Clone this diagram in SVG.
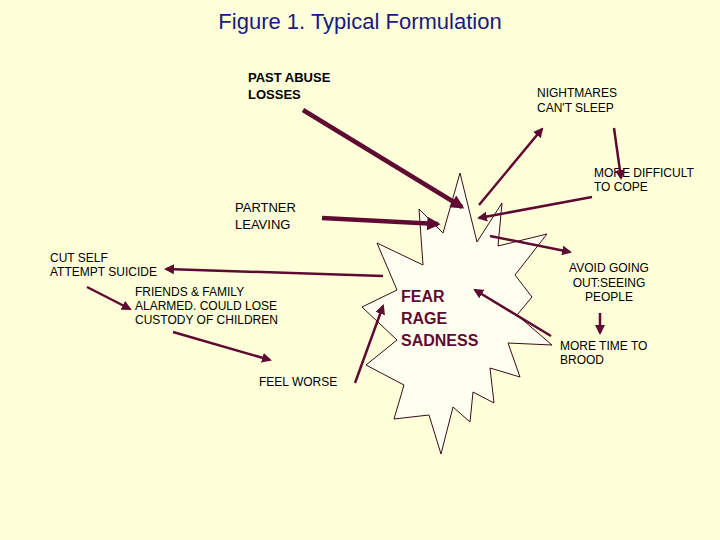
<svg xmlns="http://www.w3.org/2000/svg" width="720" height="540" viewBox="0 0 720 540">
<defs>
<style>
.t{font-family:"Liberation Sans",Arial,sans-serif;font-size:12px;fill:#000}
.b{font-family:"Liberation Sans",Arial,sans-serif;font-size:13px;font-weight:bold;fill:#000}
.c{stroke:#5f0a32;fill:none;stroke-width:2.5}
.k{stroke:#5f0a32;fill:none;stroke-width:4.5}
</style>
<marker id="a" viewBox="0 0 10 10" refX="8" refY="5" markerWidth="4" markerHeight="4" orient="auto" markerUnits="strokeWidth"><path d="M0,0L10,5L0,10z" fill="#5f0a32"/></marker>
<marker id="ak" viewBox="0 0 10 10" refX="8" refY="5" markerWidth="3.5" markerHeight="3" orient="auto" markerUnits="strokeWidth"><path d="M0,0L10,5L0,10z" fill="#5f0a32"/></marker>
</defs>
<rect width="720" height="540" fill="#ffffd9"/>
<text x="360" y="29" text-anchor="middle" style="font-family:'Liberation Sans',Arial,sans-serif;font-size:22px" fill="#1a1a80">Figure 1. Typical Formulation</text>
<g id="star">
<polygon points="460,173 477,242 502,203 498,246 547,234 515,275 532,297 517,315 552,345 508,343 520,377 490,368 494,403 473,392 470,422 453,407 441,454 429,415 394,419 404,385 366,365 397,340 362,307 397,290 377,243 423,265 419,209 443,233" fill="#fffff0" stroke="#3a0a1e" stroke-width="1"/>
<text x="401" y="302" style="font-family:'Liberation Sans',Arial,sans-serif;font-size:16px;font-weight:bold" fill="#5f0a32">FEAR</text>
<text x="401" y="324" style="font-family:'Liberation Sans',Arial,sans-serif;font-size:16px;font-weight:bold" fill="#5f0a32">RAGE</text>
<text x="401" y="346" style="font-family:'Liberation Sans',Arial,sans-serif;font-size:16px;font-weight:bold" fill="#5f0a32">SADNESS</text>
</g>
<g id="past"><text class="b" x="248" y="82">PAST ABUSE</text><text class="b" x="248" y="99">LOSSES</text></g>
<g id="nightmares"><text class="t" x="537" y="97">NIGHTMARES</text><text class="t" x="537" y="112">CAN'T SLEEP</text></g>
<g id="difficult"><text class="t" x="594" y="177">MORE DIFFICULT</text><text class="t" x="594" y="191">TO COPE</text></g>
<g id="partner"><text class="t" x="235" y="212" style="font-size:13px">PARTNER</text><text class="t" x="235" y="229" style="font-size:13px">LEAVING</text></g>
<g id="cutself"><text class="t" x="50" y="262">CUT SELF</text><text class="t" x="50" y="276">ATTEMPT SUICIDE</text></g>
<g id="friends"><text class="t" x="135" y="296">FRIENDS &amp; FAMILY</text><text class="t" x="135" y="310">ALARMED. COULD LOSE</text><text class="t" x="135" y="324">CUSTODY OF CHILDREN</text></g>
<g id="worse"><text class="t" x="259" y="386">FEEL WORSE</text></g>
<g id="avoid"><text class="t" x="609" y="272" text-anchor="middle">AVOID GOING</text><text class="t" x="609" y="287" text-anchor="middle">OUT:SEEING</text><text class="t" x="609" y="301" text-anchor="middle">PEOPLE</text></g>
<g id="brood"><text class="t" x="560" y="350">MORE TIME TO</text><text class="t" x="560" y="364">BROOD</text></g>
<g id="connectors">
<line class="k" x1="303" y1="110" x2="462" y2="207" marker-end="url(#ak)"/>
<line class="k" x1="322" y1="218" x2="438" y2="224" marker-end="url(#ak)"/>
<line class="c" x1="479" y1="205" x2="542" y2="129" marker-end="url(#a)"/>
<line class="c" x1="614" y1="128" x2="621" y2="178" marker-end="url(#a)"/>
<line class="c" x1="592" y1="197" x2="479" y2="218" marker-end="url(#a)"/>
<line class="c" x1="383" y1="276" x2="166" y2="269" marker-end="url(#a)"/>
<line class="c" x1="490" y1="236" x2="570" y2="252" marker-end="url(#a)"/>
<line class="c" x1="600" y1="313" x2="600" y2="333" marker-end="url(#a)"/>
<line class="c" x1="551" y1="336" x2="475" y2="290" marker-end="url(#a)"/>
<line class="c" x1="87" y1="287" x2="130" y2="309" marker-end="url(#a)"/>
<line class="c" x1="173" y1="332" x2="270" y2="360" marker-end="url(#a)"/>
<line class="c" x1="355" y1="383" x2="383" y2="306" marker-end="url(#a)"/>
</g>
</svg>
